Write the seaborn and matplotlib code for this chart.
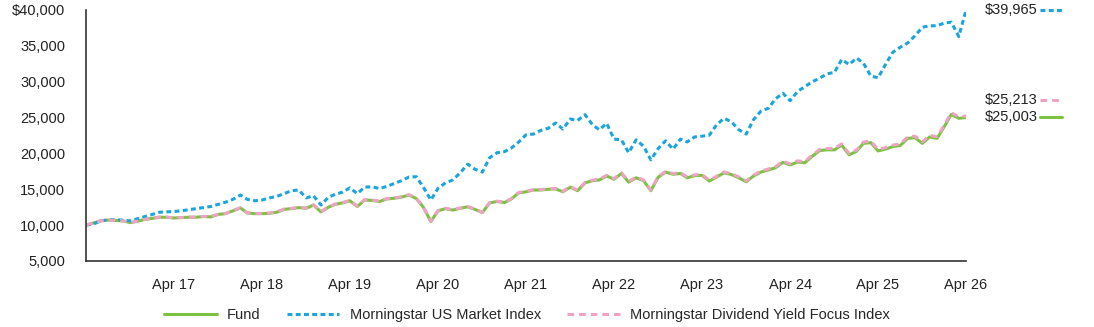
import pandas as pd
import seaborn as sns
import matplotlib.pyplot as plt
import matplotlib.dates as mdates
from matplotlib.lines import Line2D
from matplotlib.ticker import FuncFormatter

# monthly values, Apr 2016 .. Apr 2026
fund = [10000, 10300, 10600, 10700, 10650, 10600, 10350, 10550, 10800, 10950, 11100, 11100,
        11000, 11050, 11100, 11100, 11200, 11150, 11500, 11600, 12000, 12400, 11700, 11600,
        11600, 11650, 11800, 12200, 12300, 12450, 12350, 12800, 11850, 12500, 12900, 13100,
        13400, 12600, 13500, 13450, 13300, 13650, 13750, 13900, 14200, 13700, 12500, 10500,
        12000, 12300, 12100, 12350, 12550, 12200, 11750, 13100, 13300, 13150, 13650, 14500,
        14650, 14900, 14900, 15000, 15050, 14650, 15300, 14800, 15900, 16200, 16300, 16850,
        16400, 17200, 16000, 16600, 16200, 14800, 16700, 17400, 17100, 17200, 16600, 16900,
        16950, 16150, 16700, 17300, 17050, 16600, 16050, 16850, 17400, 17700, 18000, 18750,
        18400, 18800, 18700, 19600, 20400, 20500, 20500, 21150, 19800, 20300, 21400, 21500,
        20350, 20600, 20950, 21100, 22100, 22200, 21400, 22300, 22100, 23800, 25450, 24900,
        25003]

div_index = [10000, 10310, 10610, 10710, 10660, 10610, 10360, 10560, 10810, 10970, 11120, 11120,
             11020, 11070, 11120, 11120, 11230, 11180, 11530, 11630, 12030, 12430, 11730, 11630,
             11640, 11690, 11840, 12240, 12340, 12490, 12390, 12840, 11880, 12540, 12940, 13150,
             13450, 12650, 13550, 13500, 13350, 13700, 13800, 13950, 14250, 13750, 12540, 10530,
             12040, 12340, 12150, 12400, 12600, 12250, 11790, 13150, 13350, 13200, 13700, 14560,
             14710, 14960, 14960, 15060, 15110, 14710, 15370, 14870, 15970, 16280, 16380, 16940,
             16490, 17290, 16090, 16700, 16300, 14890, 16800, 17500, 17200, 17310, 16710, 17010,
             17070, 16260, 16820, 17420, 17170, 16720, 16170, 16980, 17530, 17840, 18140, 18900,
             18550, 18960, 18860, 19770, 20570, 20680, 20680, 21330, 19980, 20480, 21590, 21700,
             20550, 20800, 21160, 21310, 22310, 22410, 21610, 22520, 22320, 24020, 25670, 25110,
             25213]

market = [10000, 10150, 10600, 10750, 10750, 10700, 10600, 10900, 11200, 11500, 11800, 11850,
          11900, 12000, 12150, 12300, 12450, 12600, 12900, 13200, 13600, 14200, 13600, 13400,
          13500, 13800, 14000, 14400, 14800, 14900, 13800, 14100, 12800, 13900, 14300, 14600,
          15200, 14400, 15300, 15350, 15100, 15400, 15800, 16200, 16700, 16750, 15300, 13500,
          15150, 15900, 16300, 17300, 18500, 17800, 17400, 19400, 20100, 20250, 20750, 21600,
          22600, 22700, 23200, 23500, 24250, 23400, 24800, 24600, 25400, 24000, 23300, 24200,
          22000, 21900, 20100, 21900, 21000, 19100, 20700, 21750, 20600, 22000, 21600, 22300,
          22400, 22550, 24000, 24900, 24400, 23300, 22700, 24700, 25900, 26300, 27600, 28400,
          27350, 28650, 29300, 30000, 30500, 31100, 31300, 33100, 32400, 33300, 32600, 30800,
          30550, 32400, 34100, 34800, 35400, 36400, 37600, 37800, 37800, 38200, 38300, 36300,
          39965]

names = ['Fund', 'Morningstar US Market Index', 'Morningstar Dividend Yield Focus Index']
end_labels = ['$25,003', '$39,965', '$25,213']

dates = pd.date_range('2016-04-30', periods=len(fund), freq='ME')
df = pd.DataFrame({'date': dates, 'fund': fund, 'market': market, 'div': div_index})

green = '#7dc242'
blue = '#1ba5dc'
pink = '#eea3c4'

sns.set_style('white')
plt.rcParams['font.family'] = ['Liberation Sans', 'DejaVu Sans']
plt.rcParams['font.size'] = 10

fig = plt.figure(figsize=(10.94, 3.27), dpi=100)
ax = fig.add_axes([86 / 1094, 1 - 261 / 327, 880 / 1094, 251 / 327])

sns.lineplot(data=df, x='date', y='fund', ax=ax, color=green, lw=2.2, label=names[0])
sns.lineplot(data=df, x='date', y='market', ax=ax, color=blue, lw=2.2,
             linestyle=(0, (1.6, 1.1)), label=names[1])
sns.lineplot(data=df, x='date', y='div', ax=ax, color=pink, lw=2.2,
             linestyle=(0, (2.2, 1.6)), label=names[2])

ax.set_xlim(dates[0], dates[-1])
ax.set_ylim(5000, 40000)
ax.set_yticks(range(5000, 40001, 5000))
ax.yaxis.set_major_formatter(FuncFormatter(lambda v, p: f'${v:,.0f}' if v == 40000 else f'{v:,.0f}'))
ax.set_xticks(dates[12::12])
ax.xaxis.set_major_formatter(mdates.DateFormatter('%b %y'))
ax.set_xlabel('')
ax.set_ylabel('')
for s in ['top', 'right']:
    ax.spines[s].set_visible(False)
for s in ['left', 'bottom']:
    ax.spines[s].set_color('#333333')
    ax.spines[s].set_linewidth(1.2)
ax.tick_params(axis='both', direction='inout', length=6, width=1.2, color='#333333',
               labelsize=10.5, labelcolor='#222222')
ax.tick_params(axis='y', pad=12)
ax.tick_params(axis='x', pad=9)

handles, labels = ax.get_legend_handles_labels()
ax.get_legend().remove()
fig.legend(handles, labels, loc='center', bbox_to_anchor=(527 / 1094, 1 - 315 / 327),
           ncol=3, frameon=False, handlelength=3.6, handletextpad=0.7, columnspacing=1.8,
           fontsize=10.5)

# end value labels on the right
ends = [(39965, blue, (0, (1.6, 1.1)), end_labels[1], 10),
        (25213, pink, (0, (2.2, 1.6)), end_labels[2], 100),
        (25003, green, '-', end_labels[0], 117)]
for val, col, ls, txt, ypx in ends:
    yf = 1 - ypx / 327
    fig.text(985 / 1094, yf, txt, ha='left', va='center', fontsize=10.5, color='#222222')
    fig.add_artist(Line2D([1040 / 1094, 1062 / 1094], [yf, yf], color=col, lw=2.2,
                          linestyle=ls, transform=fig.transFigure))

fig.savefig('out.png', dpi=100)
